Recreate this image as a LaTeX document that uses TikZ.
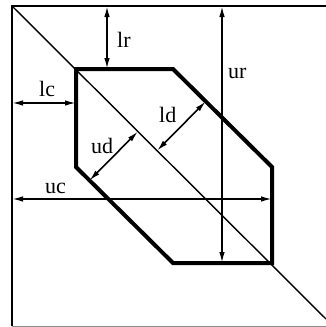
\documentclass[tikz,border=0pt]{standalone}
\usepackage{fontspec}
\setmainfont{Liberation Serif}
\usetikzlibrary{arrows.meta,calc}
\tikzset{
  frame/.style={line width=1.4pt},
  faint/.style={line width=0.8pt, draw=black!45},
  diag/.style={line width=1.4pt},
  band/.style={line width=4pt, line join=miter},
  dim/.style={{Latex[length=11pt,width=5.5pt]}-{Latex[length=11pt,width=5.5pt]},
              line width=1.6pt},
  lbl/.style={font=\fontsize{22}{22}\selectfont, inner sep=0pt, anchor=base west},
}

\begin{document}
\begin{tikzpicture}[x=1pt, y=-1pt]
\useasboundingbox (0,0) rectangle (326,327);

%% ── the matrix frame and its main diagonal ───────────────────────────────
\coordinate (tl) at (12,6);
\coordinate (tr) at (326,6);
\coordinate (bl) at (12,326);
\coordinate (br) at (326,326);
\coordinate (dEnd) at (326,319);
\draw[frame] (tr) -- (tl) -- (bl);
\draw[faint] (bl) -- (br);
\draw[diag] (tl) -- (dEnd);

%% ── the band ─────────────────────────────────────────────────────────────
\coordinate (h1) at (76,69);
\coordinate (h2) at (173,69);
\coordinate (h3) at (272,167);
\coordinate (h4) at (272,263);
\coordinate (h5) at (173,263);
\coordinate (h6) at (76,167);
\draw[band] (h1) -- (h2) -- (h3) -- (h4) -- (h5) -- (h6) -- cycle;

%% ── row and column offsets ───────────────────────────────────────────────
\coordinate (lrTop) at (107,6);
\coordinate (lrBot) at (lrTop |- h1);
\draw[dim] (lrTop) -- (lrBot);
\node[lbl] (lr) at (117,47) {lr};

\coordinate (urTop) at (222,6);
\coordinate (urBot) at (urTop |- h4);
\draw[dim] (urTop) -- (urBot);
\node[lbl] (ur) at (228,78) {ur};

\coordinate (lcL) at (12,103);
\coordinate (lcR) at (h1 |- lcL);
\draw[dim] (lcL) -- (lcR);
\node[lbl] (lc) at (39,96) {lc};

\coordinate (ucL) at (12,199);
\coordinate (ucR) at (h4 |- ucL);
\draw[dim] (ucL) -- (ucR);
\node[lbl] (uc) at (45,193) {uc};

%% ── diagonal offsets ─────────────────────────────────────────────────────
\coordinate (ldS) at ($(tl)!0.462!(dEnd)$);
\coordinate (ldE) at ($(h2)!(ldS)!(h3)$);
\draw[dim] (ldS) -- (ldE);
\node[lbl] (ld) at (159,122) {ld};

\coordinate (udS) at ($(tl)!0.401!(dEnd)$);
\coordinate (udE) at ($(h6)!(udS)!(h5)$);
\draw[dim] (udS) -- (udE);
\node[lbl] (ud) at (91,153) {ud};

\end{tikzpicture}
\end{document}
